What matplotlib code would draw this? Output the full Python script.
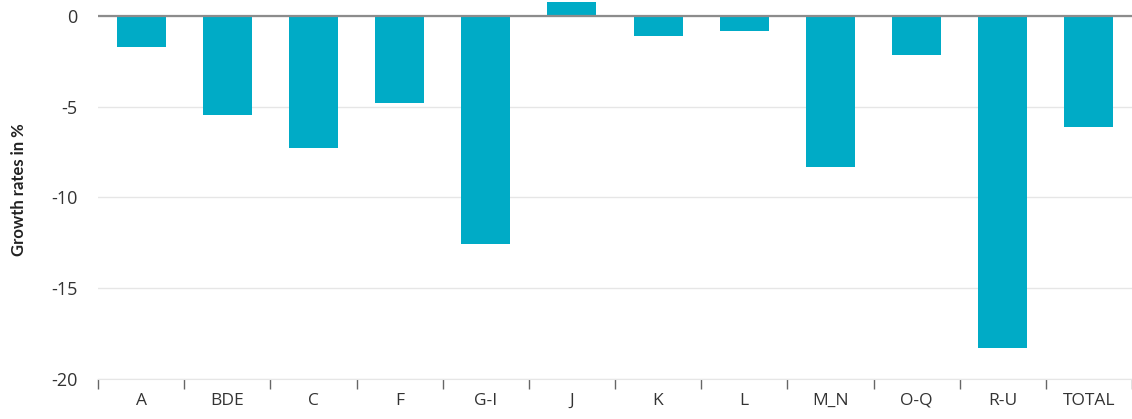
import matplotlib
matplotlib.use("Agg")
import matplotlib.pyplot as plt
import numpy as np

categories = ["A", "BDE", "C", "F", "G-I", "J", "K", "L", "M_N", "O-Q", "R-U", "TOTAL"]
growth = [-1.7, -5.45, -7.27, -4.79, -12.56, 0.77, -1.10, -0.83, -8.32, -2.15, -18.29, -6.12]

BAR = "#00abc6"
TEXT = "#333333"

plt.rcParams["font.family"] = ["Open Sans", "DejaVu Sans"]


def main():
    fig = plt.figure(figsize=(11.32, 4.19), dpi=100)
    ax = fig.add_axes([0.0866, 0.0955, 0.9134, 0.9045])

    x = np.arange(len(categories))
    ax.bar(x, growth, width=0.57, color=BAR, zorder=3)

    ax.set_xlim(-0.5, len(categories) - 0.5)
    ax.set_ylim(-20, 0.88)
    ax.set_yticks([0, -5, -10, -15, -20])
    ax.set_yticklabels(["0", "-5", "-10", "-15", "-20"])
    ax.yaxis.grid(True, color="#e6e6e6", linewidth=1, zorder=0)
    ax.axhline(0, color="#8c8c8c", linewidth=1.6, zorder=4)

    # category labels centred, tick marks between categories
    ax.set_xticks(x)
    ax.set_xticklabels(categories)
    ax.tick_params(axis="x", which="major", length=0, pad=10, labelsize=12.5, colors=TEXT)
    ax.set_xticks(np.arange(len(categories) + 1) - 0.5, minor=True)
    ax.tick_params(axis="x", which="minor", length=7, width=1, color="#666666")
    ax.tick_params(axis="y", length=0, pad=15, labelsize=13, colors=TEXT)

    for side in ["top", "right", "left"]:
        ax.spines[side].set_visible(False)
    ax.spines["bottom"].set_color("#e6e6e6")

    ax.set_ylabel("Growth rates in %", fontsize=12, fontweight="bold", color="#222222",
                  labelpad=17, family=["Lato", "DejaVu Sans"])

    fig.savefig("out.png", dpi=100)
    plt.close(fig)


if __name__ == "__main__":
    main()
